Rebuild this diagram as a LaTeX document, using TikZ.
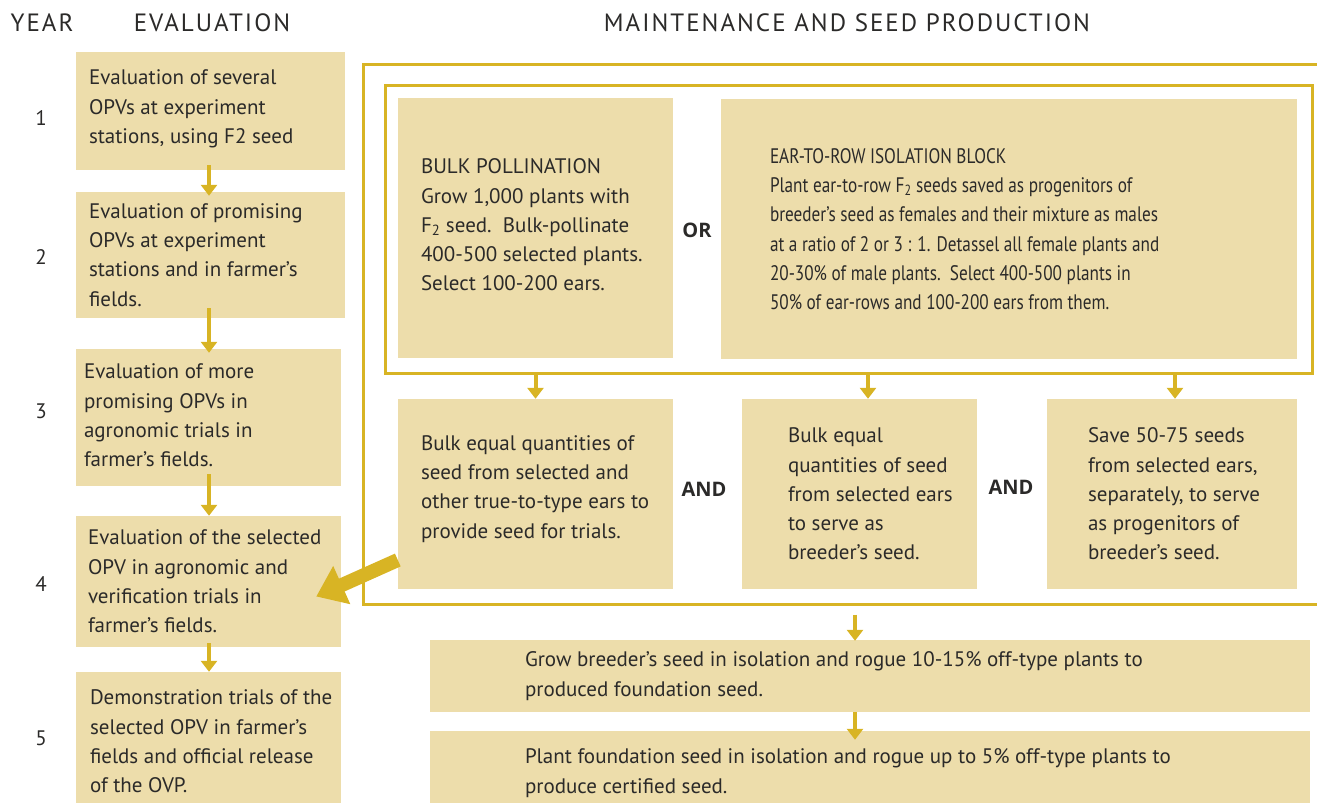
\documentclass[tikz,border=0pt]{standalone}
\usepackage{fontspec}
\setmainfont{PT Sans}
\newfontfamily\narrowfont[FakeStretch=0.82]{PT Sans}
\newfontfamily\headfont[LetterSpace=8]{PT Sans}
\newfontfamily\conjfont{Open Sans}
\usepackage{tikz}
\usetikzlibrary{arrows.meta,positioning}
\definecolor{boxtan}{HTML}{EDDDAB}
\definecolor{gold}{HTML}{D8B424}
\definecolor{ink}{HTML}{2B2A29}

\begin{document}
\begin{tikzpicture}[x=1pt,y=-1pt,
	box/.style={fill=boxtan,draw=none,inner sep=0pt},
	txt/.style={align=left,inner sep=0pt,text=ink,font=\fontsize{21}{29.3}\selectfont},
	head/.style={text=ink,font=\fontsize{25}{28}\headfont},
	conj/.style={text=ink,font=\fontsize{20}{22}\conjfont\bfseries},
	frame/.style={draw=gold,line width=3pt,inner sep=0pt},
	flow/.style={draw=gold,line width=4pt,-{Triangle[width=16pt,length=11pt]}},
	bigflow/.style={draw=gold,line width=14pt,-{Triangle[width=40pt,length=28pt]}}]
	\useasboundingbox (0,0) rectangle (1317,803);
	\node[head] (hyear) at (42,23) {YEAR};
	\node[head] (heval) at (212,23) {EVALUATION};
	\node[head] (hmaint) at (847,23) {MAINTENANCE AND SEED PRODUCTION};
	\node[box,minimum width=269,minimum height=118] (e1) at (210.5,111) {};
	\node[box,minimum width=269,minimum height=126] (e2) at (210.5,255) {};
	\node[box,minimum width=265,minimum height=137] (e3) at (208.5,417.5) {};
	\node[box,minimum width=265,minimum height=131] (e4) at (208.5,581.5) {};
	\node[box,minimum width=265,minimum height=131] (e5) at (208.5,737.5) {};
	\node[txt,right=13pt of e1.west,yshift=2pt] (e1t) {Evaluation of several\\OPVs at experiment\\stations, using F2 seed};
	\node[txt,right=13pt of e2.west] (e2t) {Evaluation of promising\\OPVs at experiment\\stations and in farmer’s\\fields.};
	\node[txt,right=8pt of e3.west,yshift=2pt] (e3t) {Evaluation of more\\promising OPVs in\\agronomic trials in\\farmer’s fields.};
	\node[txt,right=12pt of e4.west] (e4t) {Evaluation of the selected\\OPV in agronomic and\\verification trials in\\farmer’s fields.};
	\node[txt,right=14pt of e5.west,yshift=-4pt] (e5t) {Demonstration trials of the\\selected OPV in farmer’s\\fields and official release\\of the OVP.};
	\node[txt] (y1) at (41,118) {1};
	\node[txt] (y2) at (41,257) {2};
	\node[txt] (y3) at (41,411) {3};
	\node[txt] (y4) at (41,584) {4};
	\node[txt] (y5) at (41,738) {5};
	\node[frame,minimum width=967,minimum height=540] (mframe) at (846.5,334) {};
	\node[frame,minimum width=927,minimum height=288] (iframe) at (848.5,229) {};
	\node[box,minimum width=275,minimum height=260] (bulk) at (535.5,228) {};
	\node[box,minimum width=576,minimum height=260] (ear) at (1009,229) {};
	\node[txt,right=23pt of bulk.west,yshift=3pt] (bulkt) {BULK POLLINATION\\Grow 1,000 plants with\\F\textsubscript{2} seed.\ \ Bulk-pollinate\\400-500 selected plants.\\Select 100-200 ears.};
	\node[txt,right=49pt of ear.west,font=\fontsize{21}{29.3}\narrowfont] (eart) {EAR-TO-ROW ISOLATION BLOCK\\Plant ear-to-row F\textsubscript{2} seeds saved as progenitors of\\breeder’s seed as females and their mixture as males\\at a ratio of 2 or 3 : 1. Detassel all female plants and\\20-30\% of male plants.\ \ Select 400-500 plants in\\50\% of ear-rows and 100-200 ears from them.};
	\node[conj] (or) at (697,230) {OR};
	\node[box,minimum width=275,minimum height=190] (b1) at (535.5,494) {};
	\node[box,minimum width=235,minimum height=190] (b2) at (859.5,494) {};
	\node[box,minimum width=250,minimum height=190] (b3) at (1172,494) {};
	\node[txt,right=23pt of b1.west,yshift=5pt] (b1t) {Bulk equal quantities of\\seed from selected and\\other true-to-type ears to\\provide seed for trials.};
	\node[txt,right=46pt of b2.west] (b2t) {Bulk equal\\quantities of seed\\from selected ears\\to serve as\\breeder’s seed.};
	\node[txt,right=41pt of b3.west] (b3t) {Save 50-75 seeds\\from selected ears,\\separately, to serve\\as progenitors of\\breeder’s seed.};
	\node[conj] (and1) at (704,489) {AND};
	\node[conj] (and2) at (1011,487) {AND};
	\node[box,minimum width=880,minimum height=72] (g1) at (870,676) {};
	\node[box,minimum width=880,minimum height=80] (g2) at (870,771) {};
	\node[txt,right=95pt of g1.west] (g1t) {Grow breeder’s seed in isolation and rogue 10-15\% off-type plants to\\produced foundation seed.};
	\node[txt,right=95pt of g2.west,yshift=-2pt] (g2t) {Plant foundation seed in isolation and rogue up to 5\% off-type plants to\\produce certified seed.};
	\draw[flow,shorten <=-5pt,shorten >=-4pt] ([xshift=-1.5pt]e1.south) -- ([xshift=-1.5pt]e2.north);
	\draw[flow,shorten <=-10pt,shorten >=-4pt] ([xshift=-1.5pt]e2.south) -- ([xshift=0.5pt]e3.north);
	\draw[flow,shorten <=-12pt] ([xshift=0.5pt]e3.south) -- ([xshift=0.5pt]e4.north);
	\draw[flow,shorten <=-4pt] ([xshift=0.5pt]e4.south) -- ([xshift=0.5pt]e5.north);
	\draw[flow] (iframe.south -| b1.north) -- (b1.north);
	\draw[flow] (iframe.south -| b2.north) ++(8.5,0) coordinate (a2) -- (a2 |- b2.north);
	\draw[flow] (iframe.south -| b3.north) ++(3,0) coordinate (a3) -- (a3 |- b3.north);
	\draw[flow,shorten <=9pt,shorten >=-1pt] (mframe.south -| 855,0) -- (g1.north -| 855,0);
	\draw[flow,shorten >=-9pt] (g1.south -| 855,0) -- (g2.north -| 855,0);
	\draw[bigflow] ([yshift=-66pt]b1.west) -- ([xshift=-25pt,yshift=-15pt]e4.east);
\end{tikzpicture}
\end{document}
